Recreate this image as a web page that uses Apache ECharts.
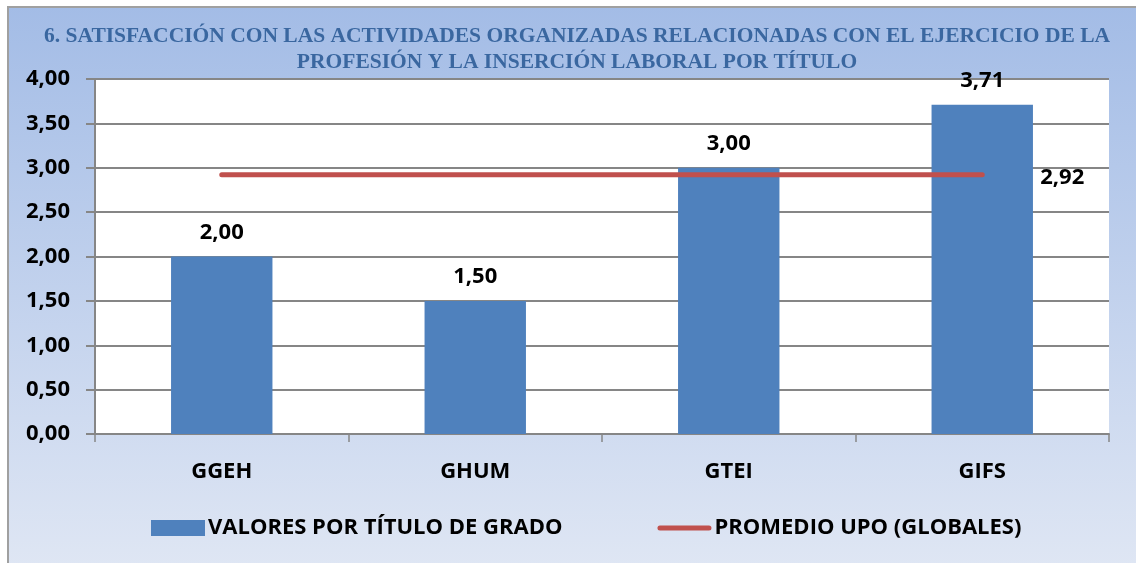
<!DOCTYPE html>
<html>
<head>
<meta charset="utf-8">
<script src="https://cdn.jsdelivr.net/npm/echarts@6/dist/echarts.min.js"></script>
<style>
  html, body { margin: 0; padding: 0; background: #fff; }
  #container { width: 1136px; height: 563px; }
</style>
</head>
<body>
<div id="container"></div>
<script>
var titulos = ['GGEH', 'GHUM', 'GTEI', 'GIFS'];
var valoresGrado = [2.00, 1.50, 3.00, 3.71];
var promedioUPO = [2.92, 2.92, 2.92, 2.92];
var yTicks = [0, 0.5, 1, 1.5, 2, 2.5, 3, 3.5, 4];

var fmt = function (v) { return Number(v).toFixed(2).replace('.', ','); };

var dom = document.getElementById("container");
var myChart = echarts.init(dom);
var labelFont = 'Open Sans';
var labelSize = 22;

option = {
    backgroundColor: '#ffffff',
    animation: false,
    graphic: [{
        type: 'rect',
        z: -10,
        silent: true,
        shape: { x: 8, y: 7, width: 1140, height: 570 },
        style: {
            fill: new echarts.graphic.LinearGradient(0, 0, 0, 1, [
                { offset: 0, color: '#a3bce6' },
                { offset: 1, color: '#e0e7f4' }
            ]),
            stroke: '#a0a0a0',
            lineWidth: 2
        }
    }],
    title: {
        text: '6. SATISFACCIÓN CON LAS ACTIVIDADES ORGANIZADAS RELACIONADAS CON EL EJERCICIO DE LA\nPROFESIÓN Y LA INSERCIÓN LABORAL POR TÍTULO',
        left: 572,
        textAlign: 'center',
        top: 18,
        textStyle: {
            fontFamily: 'Liberation Serif',
            fontWeight: 'bold',
            fontSize: 21.5,
            color: '#3a67a0',
            lineHeight: 26
        }
    },
    legend: {
        left: 146,
        top: 512,
        itemGap: 95,
        itemWidth: 54,
        itemHeight: 16,
        textStyle: {
            fontFamily: labelFont,
            fontWeight: 'bold',
            fontSize: labelSize,
            color: '#000',
            padding: [0, 0, 0, -2]
        },
        data: [
            { name: 'VALORES POR TÍTULO DE GRADO', icon: 'rect' },
            { name: 'PROMEDIO UPO (GLOBALES)', icon: 'path://M2.5,0 L51.5,0 A2.5,2.5 0 0 1 51.5,5 L2.5,5 A2.5,2.5 0 0 1 2.5,0 Z' }
        ]
    },
    grid: {
        left: 95,
        right: 27,
        top: 79,
        bottom: 129,
        show: true,
        backgroundColor: '#ffffff',
        borderWidth: 0
    },
    xAxis: {
        type: 'category',
        data: titulos,
        axisLine: { lineStyle: { color: '#868686', width: 2 } },
        axisTick: { show: true, length: 8, lineStyle: { color: '#868686', width: 1.5 } },
        axisLabel: {
            margin: 27,
            fontFamily: labelFont,
            fontWeight: 'bold',
            fontSize: labelSize,
            color: '#000'
        }
    },
    yAxis: {
        type: 'value',
        min: yTicks[0],
        max: yTicks[yTicks.length - 1],
        interval: yTicks[1] - yTicks[0],
        axisLine: { show: true, lineStyle: { color: '#868686', width: 2 } },
        axisTick: { show: true, length: 9, lineStyle: { color: '#868686', width: 2 } },
        splitLine: { lineStyle: { color: '#868686', width: 2 } },
        axisLabel: {
            margin: 25,
            formatter: fmt,
            fontFamily: labelFont,
            fontWeight: 'bold',
            fontSize: labelSize,
            color: '#000'
        }
    },
    series: [
        {
            name: 'VALORES POR TÍTULO DE GRADO',
            type: 'bar',
            data: valoresGrado,
            barWidth: '40%',
            itemStyle: { color: '#4f81bd' },
            label: {
                show: true,
                position: 'top',
                distance: 13,
                formatter: function (p) { return fmt(p.value); },
                fontFamily: labelFont,
                fontWeight: 'bold',
                fontSize: labelSize,
                color: '#000'
            }
        },
        {
            name: 'PROMEDIO UPO (GLOBALES)',
            type: 'line',
            data: promedioUPO,
            symbol: 'none',
            itemStyle: { color: '#c0504d' },
            lineStyle: { color: '#c0504d', width: 5, cap: 'round' },
            endLabel: {
                show: true,
                distance: 58,
                offset: [0, 3],
                formatter: function (p) { return fmt(p.value); },
                fontFamily: labelFont,
                fontWeight: 'bold',
                fontSize: labelSize,
                color: '#000'
            }
        }
    ]
};

if (option && typeof option === "object") {
    myChart.setOption(option, true);
}
</script>
</body>
</html>
